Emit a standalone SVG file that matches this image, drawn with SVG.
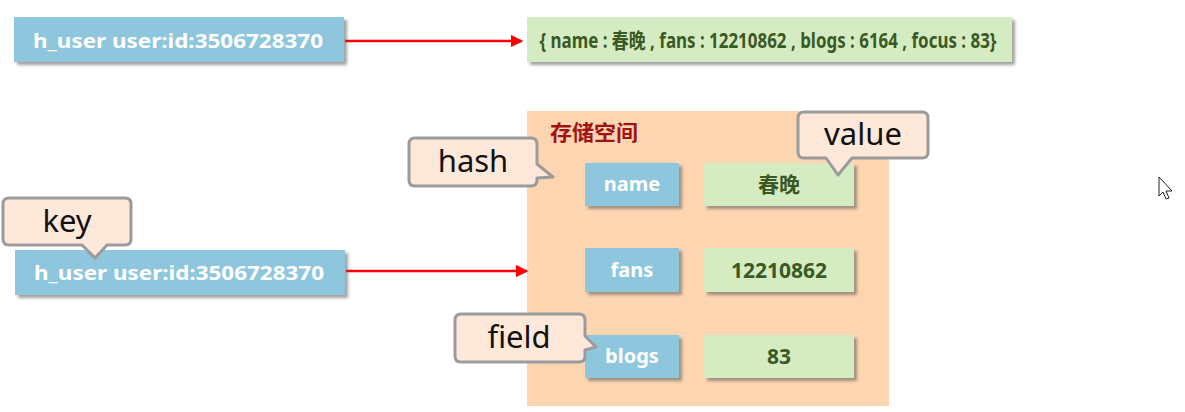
<svg xmlns="http://www.w3.org/2000/svg" width="1185" height="412" viewBox="0 0 1185 412">
<defs>
<filter id="sh" x="-10%" y="-20%" width="130%" height="160%">
<feDropShadow dx="3" dy="3" stdDeviation="1.5" flood-color="#555" flood-opacity="0.55"/>
</filter>
<marker id="arr" viewBox="0 0 10 10" refX="9" refY="5" markerWidth="5" markerHeight="5" orient="auto" markerUnits="strokeWidth">
<path d="M0,0 L10,5 L0,10 z" fill="#ff0000"/>
</marker>
</defs>
<style>
.key{fill:#8ec6de;filter:url(#sh)}
.val{fill:#d5ecc3;filter:url(#sh)}
.kt{font-family:"Noto Sans","Noto Sans CJK SC",sans-serif;font-weight:bold;fill:#ffffff;font-size:20px;text-anchor:middle}
.vt{font-family:"Noto Sans","Noto Sans CJK SC",sans-serif;font-weight:bold;fill:#3b5a23;font-size:21px;text-anchor:middle}
.co{fill:#fde8d9;stroke:#9b9b9b;stroke-width:3;stroke-linejoin:round}
.ct{font-family:"Noto Sans","Open Sans",sans-serif;fill:#111;font-size:31px;text-anchor:middle}
.con{stroke:#ff0000;stroke-width:2.5;fill:none;marker-end:url(#arr)}
</style>
<rect width="1185" height="412" fill="#ffffff"/>

<g id="storage">
<rect x="527" y="111" width="362" height="295" fill="#fdd5b1"/>
<text x="550" y="140" font-family="Noto Sans CJK SC,sans-serif" font-weight="bold" font-size="21" fill="#a31212" textLength="88" lengthAdjust="spacingAndGlyphs">存储空间</text>
</g>

<g id="connectors">
<line class="con" x1="345" y1="41" x2="522" y2="41"/>
<line class="con" x1="346" y1="271" x2="527" y2="271"/>
</g>

<g id="key-top">
<rect class="key" x="14" y="17" width="330" height="45"/>
<text class="kt" x="178" y="48" font-size="22" textLength="290" lengthAdjust="spacingAndGlyphs">h_user user:id:3506728370</text>
</g>
<g id="value-top">
<rect class="val" x="527" y="17" width="485" height="45"/>
<text class="vt" x="768" y="48" font-size="22" textLength="457" lengthAdjust="spacingAndGlyphs">{ name : 春晚 , fans : 12210862 , blogs : 6164 , focus : 83}</text>
</g>

<g id="key-bottom">
<rect class="key" x="15" y="250" width="330" height="45"/>
<text class="kt" x="179" y="280" font-size="22" textLength="290" lengthAdjust="spacingAndGlyphs">h_user user:id:3506728370</text>
</g>

<g id="field-name">
<rect class="key" x="585" y="163" width="94" height="43"/>
<text class="kt" x="632" y="191">name</text>
</g>
<g id="value-name">
<rect class="val" x="704" y="163" width="150" height="43"/>
<text class="vt" x="779" y="192">春晚</text>
</g>
<g id="field-fans">
<rect class="key" x="585" y="248" width="94" height="44"/>
<text class="kt" x="632" y="277">fans</text>
</g>
<g id="value-fans">
<rect class="val" x="704" y="248" width="150" height="44"/>
<text class="vt" x="779" y="278">12210862</text>
</g>
<g id="field-blogs">
<rect class="key" x="585" y="335" width="94" height="43"/>
<text class="kt" x="632" y="363">blogs</text>
</g>
<g id="value-blogs">
<rect class="val" x="704" y="335" width="150" height="43"/>
<text class="vt" x="779" y="364">83</text>
</g>

<g id="callout-hash">
<path class="co" d="M415,138 H531 Q537,138 537,144 V164 L553,177 L537,178 V180 Q537,186 531,186 H415 Q409,186 409,180 V144 Q409,138 415,138 Z"/>
<text class="ct" x="473" y="172">hash</text>
</g>
<g id="callout-value">
<path class="co" d="M804,112 H922 Q928,112 928,118 V152 Q928,158 922,158 H852 L838,175 L826,158 H804 Q798,158 798,152 V118 Q798,112 804,112 Z"/>
<text class="ct" x="863" y="145">value</text>
</g>
<g id="callout-key">
<path class="co" d="M9,198 H125 Q131,198 131,204 V239 Q131,245 125,245 H107 L95,258 L82,245 H9 Q3,245 3,239 V204 Q3,198 9,198 Z"/>
<text class="ct" x="67" y="232">key</text>
</g>
<g id="callout-field">
<path class="co" d="M461,314 H579 Q585,314 585,320 V336 L596,347 L585,350 V356 Q585,362 579,362 H461 Q455,362 455,356 V320 Q455,314 461,314 Z"/>
<text class="ct" x="519" y="348">field</text>
</g>

<path d="M1159,177 L1159,196 L1163,192 L1166,199 L1169,198 L1166,191 L1172,191 Z" fill="#fff" stroke="#222" stroke-width="1"/>
</svg>
